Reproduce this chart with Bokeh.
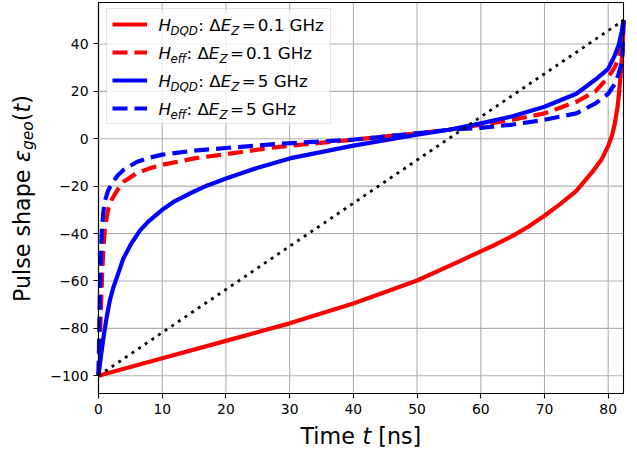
import math
from bokeh.plotting import figure
from bokeh.models import (Range1d, Legend, LegendItem, Label, CustomJSTickFormatter,
                          BoxAnnotation, FixedTicker)
from bokeh.core.properties import value
from bokeh.embed import file_html
from bokeh.resources import INLINE

# ---------------- data ----------------
T_END = 82.4
X_TICKS = [0, 10, 20, 30, 40, 50, 60, 70, 80]
Y_TICKS = [-100, -80, -60, -40, -20, 0, 20, 40]

# H_DQD, dEz = 0.1 GHz (red solid)
t_dqd_01 = [0, 5, 10, 20, 30, 40, 50, 56.8, 60, 62.5, 65, 67.5, 70, 72.5, 75, 77.5, 79, 80, 80.6, 81, 81.5, 82, 82.25, 82.4]
e_dqd_01 = [-100, -96.3, -92.6, -85.3, -77.9, -69.5, -59.8, -51.5, -47.5, -44.4, -41, -37, -32.5, -27.5, -22, -14, -8.5, -3, 1.5, 6, 14, 28, 38, 50]

# H_eff, dEz = 0.1 GHz (red dashed)
t_eff_01 = [0, 0.2, 0.4, 0.6, 0.8, 1.0, 1.5, 2, 3, 4, 6, 8, 10, 15, 20, 28, 40, 50, 55, 60, 65, 70, 75, 78, 80, 81, 81.6, 82, 82.25, 82.4]
e_eff_01 = [-100, -86, -70, -55, -45, -38, -30, -26, -21.5, -18, -14.5, -12.5, -11, -8.3, -6.5, -3.5, -0.4, 2.3, 3.8, 5.9, 8, 10.7, 15.6, 20, 26, 30, 34, 38, 42, 50]

# H_DQD, dEz = 5 GHz (blue solid)
t_dqd_5 = [0, 0.4, 0.8, 1.3, 1.8, 2.3, 2.9, 3.9, 5.2, 6.5, 7.8, 10, 12, 14.4, 17, 20, 25, 30, 40, 50, 55, 60, 65, 70, 75, 78, 80, 81, 81.7, 82.1, 82.4]
e_dqd_5 = [-100, -91.5, -83.5, -75, -68, -63, -58.4, -50.5, -44, -38.8, -35, -30, -26.3, -23, -19.8, -16.8, -12.2, -8.3, -2.9, 1.7, 3.8, 6.5, 9.5, 13.5, 19, 25, 29.5, 35, 40, 45, 50]

# H_eff, dEz = 5 GHz (blue dashed)
t_eff_5 = [0, 0.1, 0.2, 0.35, 0.5, 0.75, 1, 1.5, 2, 3, 4, 6, 8, 10, 15, 20, 28, 40, 50, 55, 60, 65, 70, 75, 78, 80, 81, 81.6, 82, 82.25, 82.4]
e_eff_5 = [-100, -84, -68, -52, -40, -31, -26.3, -22, -19.3, -15.5, -13, -9.8, -8, -6.7, -5, -3.9, -2.2, -0.4, 2.3, 3.8, 4.6, 6, 8, 10.7, 14.9, 19, 23, 27, 31, 36, 50]

# linear reference (black dotted)
t_lin = [0, T_END]
e_lin = [-100, 50]

LEGEND_SUBS = ["DQD", "eff", "DQD", "eff"]
LEGEND_DEZ = ["0.1", "0.1", "5", "5"]

# ---------------- layout / style ----------------
FONT = "DejaVu Sans"
W, H = 637, 450
FL, FR, FT, FB = 98, 623, 2, 393          # pixel box of the data area
XR = (0, T_END)
YR = (-107.5, 57.5)
RED, BLUE = "#ff0000", "#0000ff"
GRID = "#b0b0b0"
LW = 4.2
DASH = "15 7"

# the frame spans the whole canvas; the data box is placed inside it
SX = (FR - FL) / (XR[1] - XR[0])
SY = (FB - FT) / (YR[1] - YR[0])
x_rng = Range1d(XR[0] - FL / SX, XR[1] + (W - FR) / SX)
y_rng = Range1d(YR[0] - (H - FB) / SY, YR[1] + FT / SY)

p = figure(width=W, height=H, x_range=x_rng, y_range=y_rng,
           output_backend="svg", toolbar_location=None,
           min_border=0, min_border_left=0, min_border_right=0,
           min_border_top=0, min_border_bottom=0)
p.outline_line_color = None
p.grid.grid_line_color = None

p.xaxis.ticker = FixedTicker(ticks=X_TICKS)
p.yaxis.ticker = FixedTicker(ticks=Y_TICKS)
p.xaxis.fixed_location = YR[0]
p.yaxis.fixed_location = XR[0]
p.xaxis.bounds = XR
p.yaxis.bounds = YR
p.yaxis.formatter = CustomJSTickFormatter(code="return tick < 0 ? '\u2212' + String(-tick) : String(tick);")
for ax in (p.xaxis, p.yaxis):
    ax.axis_line_color = "black"
    ax.axis_line_width = 1.1
    ax.major_tick_line_color = "black"
    ax.major_tick_line_width = 1.1
    ax.major_tick_in = 0
    ax.major_tick_out = 5
    ax.minor_tick_line_color = None
    ax.major_label_standoff = 5
    ax.major_label_text_font = FONT
    ax.major_label_text_font_size = "13.9px"
    ax.major_label_text_color = "black"

# grid lines at the tick positions, limited to the data box
p.segment(x0=X_TICKS, x1=X_TICKS, y0=[YR[0]] * len(X_TICKS), y1=[YR[1]] * len(X_TICKS),
          line_color=GRID, line_width=1.1, level="underlay")
p.segment(x0=[XR[0]] * len(Y_TICKS), x1=[XR[1]] * len(Y_TICKS), y0=Y_TICKS, y1=Y_TICKS,
          line_color=GRID, line_width=1.1, level="underlay")

# legend background (semi-transparent white over the grid)
p.add_layout(BoxAnnotation(left=106, right=329, top=10, bottom=124,
                           left_units="canvas", right_units="canvas",
                           top_units="canvas", bottom_units="canvas",
                           fill_color="white", fill_alpha=0.8, line_color=None,
                           level="underlay"))

r1 = p.line(t_dqd_01, e_dqd_01, line_color=RED, line_width=LW, line_join="round")
r2 = p.line(t_eff_01, e_eff_01, line_color=RED, line_width=LW, line_dash=DASH, line_join="round")
r3 = p.line(t_dqd_5, e_dqd_5, line_color=BLUE, line_width=LW, line_join="round")
r4 = p.line(t_eff_5, e_eff_5, line_color=BLUE, line_width=LW, line_dash=DASH, line_join="round")
r5 = p.line(t_lin, e_lin, line_color="black", line_width=2.8, line_dash="3 5")

# spines around the data box
p.add_layout(BoxAnnotation(left=XR[0], right=XR[1], bottom=YR[0], top=YR[1],
                           fill_color=None, fill_alpha=0, line_color="black",
                           line_width=1.1, line_alpha=1.0))

LEG_PAD, LEG_ROW, LEG_SP = 5, 20, 8
leg_h = 2 * LEG_PAD + 4 * LEG_ROW + 3 * LEG_SP
legend = Legend(items=[LegendItem(label=value(" "), renderers=[r]) for r in (r1, r2, r3, r4)],
                location=(FL + 8, H - (FT + 8) - leg_h), padding=LEG_PAD, spacing=LEG_SP,
                glyph_width=35, glyph_height=LEG_ROW, label_height=LEG_ROW, label_width=166,
                label_standoff=12, label_text_font_size="1px",
                border_line_color="#cccccc", border_line_width=1,
                background_fill_alpha=0.0)
p.add_layout(legend)


W_EM = {"H": 0.752, "D": 0.770, "Q": 0.787, "e": 0.615, "f": 0.352, ":": 0.337, " ": 0.318,
        "Δ": 0.684, "E": 0.632, "Z": 0.685, "=": 0.838, "g": 0.635, "o": 0.612, "ε": 0.541,
        "(": 0.390, ")": 0.390, "t": 0.392, "T": 0.611, "i": 0.278, "m": 0.974, "[": 0.390,
        "]": 0.390, "n": 0.634, "s": 0.521, "P": 0.603, "u": 0.634, "l": 0.278, "h": 0.634,
        "a": 0.613, "p": 0.635}


def tw(s, size):
    return sum(W_EM.get(c, 0.6) for c in s) * size


BASE_FIX = 0.36   # renderer places the alphabetic baseline this much (in em) lower


def lab(px, py, text, size, italic=False, angle=0.0):
    if angle == 0.0:
        py -= BASE_FIX * size
    else:
        px -= BASE_FIX * size
    p.add_layout(Label(x=px, y=py, x_units="canvas", y_units="canvas", level="overlay",
                       text=text, text_font=FONT,
                       text_font_size=f"{size}px",
                       text_font_style="italic" if italic else "normal",
                       text_color="black", text_align="left",
                       text_baseline="alphabetic", angle=angle))


# legend texts
LF, SF = 16.7, 11.7
for i, (sub, dez) in enumerate(zip(LEGEND_SUBS, LEGEND_DEZ)):
    base = FT + 8 + LEG_PAD + LEG_ROW / 2 + (LEG_ROW + LEG_SP) * i + 6
    x = 158
    lab(x, base, "H", LF, True); x += tw("H", LF)
    lab(x - 0.5, base + 3.5, sub, SF, True); x += tw(sub, SF)
    lab(x, base, ":", LF); x += tw(": ", LF)
    lab(x, base, "Δ", LF); x += tw("Δ", LF)
    lab(x, base, "E", LF, True); x += tw("E", LF)
    lab(x, base + 3.5, "Z", SF, True); x += tw("Z", SF) + 2.5
    lab(x, base, "=", LF); x += tw("=", LF) + 2
    lab(x, base, f"{dez} GHz", LF)

# x axis label: "Time t [ns]"
AF = 22.2
xb = 443.5
x = 300
lab(x, xb, "Time", AF); x += tw("Time ", AF)
lab(x, xb, "t", AF, True); x += tw("t ", AF)
lab(x, xb, "[ns]", AF)

# y axis label: "Pulse shape ε_geo(t)" rotated
yb = 29
y = 301.5
ang = math.pi / 2
lab(yb, y, "Pulse shape", AF, angle=ang); y -= tw("Pulse shape ", AF)
lab(yb, y, "ε", AF, True, ang); y -= tw("ε", AF)
lab(yb + 4.5, y, "geo", 15.5, True, ang); y -= tw("geo", 15.5)
lab(yb, y, "(", AF, angle=ang); y -= tw("(", AF)
lab(yb, y, "t", AF, True, ang); y -= tw("t", AF)
lab(yb, y, ")", AF, angle=ang)

open("out.html", "w").write(file_html(p, INLINE))
